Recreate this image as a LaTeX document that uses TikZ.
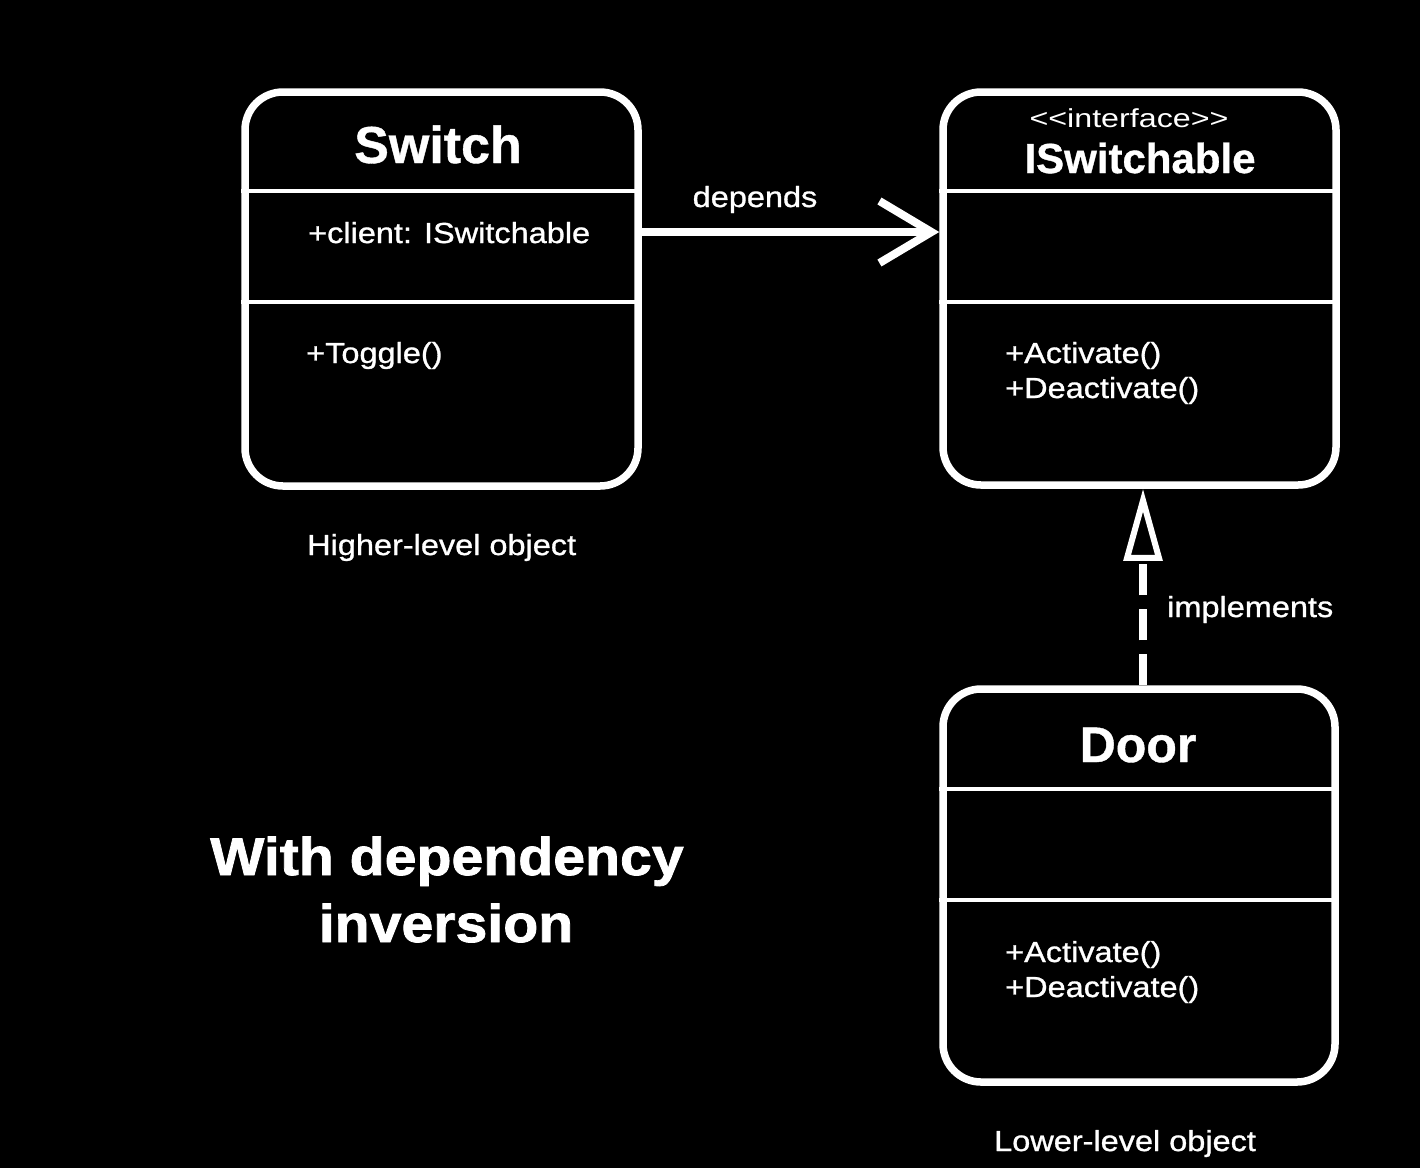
\documentclass[tikz,border=0pt]{standalone}
\usepackage{fontspec}
\setmainfont{Liberation Sans}[FakeBold=0.8]
\newfontfamily\rf{Liberation Sans}[FakeStretch=1.12, FakeBold=1.0]
\newfontfamily\nf{Liberation Sans}[FakeStretch=1.24]
\newfontfamily\hf{Liberation Sans}[FakeStretch=1.08, FakeBold=1.5]
\usetikzlibrary{arrows.meta}
\begin{document}
\begin{tikzpicture}[x=1pt,y=-1pt,
  classbox/.style={draw=white, line width=7.5pt, rounded corners=38pt, fill=black,
    minimum width=393pt, minimum height=394pt, inner sep=0pt},
  divider/.style={draw=white, line width=4pt},
  lbl/.style={text=white, inner sep=0pt, font=\rf\fontsize{29}{35}\selectfont},
  ttl/.style={text=white, inner sep=0pt, anchor=base, font=\bfseries\fontsize{#1}{#1}\selectfont},
  conn/.style={draw=white, line width=8pt}
]
\fill[black] (0,0) rectangle (1420,1168);
\useasboundingbox (0,0) rectangle (1420,1168);

% boxes
\node[classbox] (sw) at (441.5,289) {};
\node[classbox, minimum height=393pt] (isw) at (1139.5,288.5) {};
\node[classbox, minimum width=392pt, minimum height=393pt] (door) at (1139,885.5) {};

% dividers
\draw[divider] (sw.west |- 0,191) -- (sw.east |- 0,191);
\draw[divider] (sw.west |- 0,302) -- (sw.east |- 0,302);
\draw[divider] (isw.west |- 0,191) -- (isw.east |- 0,191);
\draw[divider] (isw.west |- 0,302) -- (isw.east |- 0,302);
\draw[divider] (door.west |- 0,789) -- (door.east |- 0,789);
\draw[divider] (door.west |- 0,900) -- (door.east |- 0,900);

% titles
\node[ttl=52] (swt) at (438,163) {Switch};
\node[text=white, inner sep=0pt, anchor=base, font=\nf\fontsize{26}{30}\selectfont] (iswst) at (1129,127) {<<interface>>};
\node[ttl=42] (iswt) at (1140,173) {ISwitchable};
\node[ttl=50] (doort) at (1138,762) {Door};

% members
\node[lbl, anchor=base west] (swa) at (308,243) {+client: ISwitchable};
\node[lbl, anchor=base west] (swm) at (306,363) {+Toggle()};
\node[lbl, anchor=base west, align=left] (iswm1) at (1005,363) {+Activate()};
\node[lbl, anchor=base west, align=left] (iswm2) at (1005,398) {+Deactivate()};
\node[lbl, anchor=base west, align=left] (doorm1) at (1005,962) {+Activate()};
\node[lbl, anchor=base west, align=left] (doorm2) at (1005,997) {+Deactivate()};

% connectors
\draw[conn, -{Straight Barb[length=52pt, width=62pt, line width=8pt]}]
  (sw.east |- 0,232) -- (isw.west |- 0,232);
\draw[conn, dash pattern=on 31pt off 14pt,
  -{Triangle[open, length=72pt, width=38pt, line width=6pt]}]
  ([xshift=4pt]door.north) -- ([xshift=3.5pt]isw.south);

% connector labels
\node[lbl, anchor=base] (dep) at (755,207) {depends};
\node[lbl, anchor=base west] (impl) at (1167,617) {implements};

% captions
\node[lbl, anchor=base west] (hl) at (307,555) {Higher-level object};
\node[lbl, anchor=base west] (ll) at (994,1151) {Lower-level object};
\node[text=white, inner sep=0pt, anchor=base, font=\hf\bfseries\fontsize{53}{60}\selectfont] (h1) at (447,875) {With dependency};
\node[text=white, inner sep=0pt, anchor=base, font=\hf\bfseries\fontsize{53}{60}\selectfont] (h2) at (446,942) {inversion};
\end{tikzpicture}
\end{document}
